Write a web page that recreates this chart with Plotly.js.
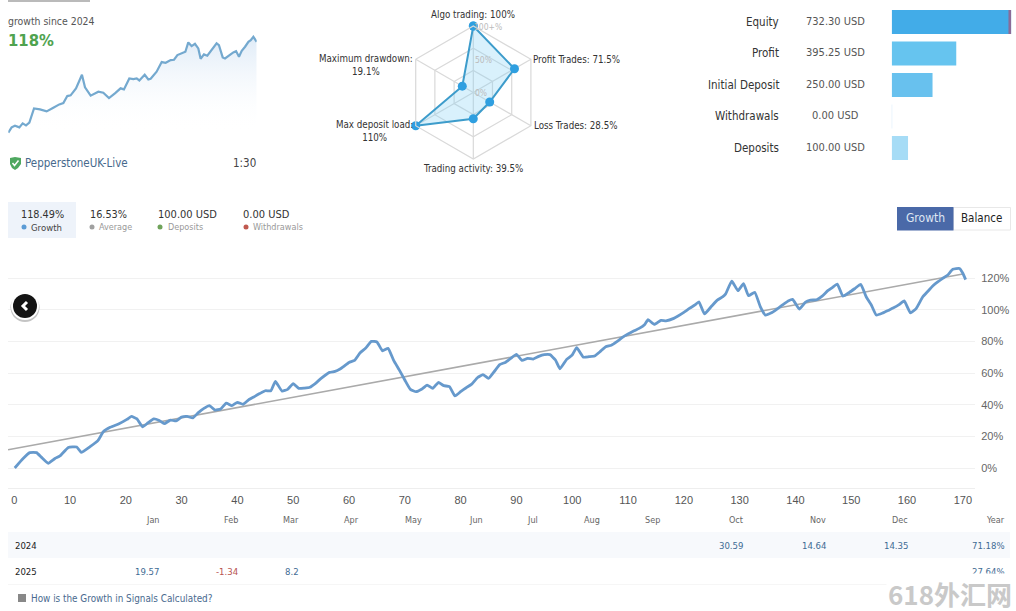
<!DOCTYPE html>
<html>
<head>
<meta charset="utf-8">
<script src="https://cdn.plot.ly/plotly-3.0.1.min.js"></script>
<style>
html, body { margin: 0; padding: 0; background: #fff; }
</style>
</head>
<body>
<div id="chart" style="width:1016px;height:611px"></div>
<script>
// main growth curve
var growthX = [0.1,1.6,2.8,4,4.9,6.1,7.3,8.2,9.7,11.2,12,13.6,15,16,17.2,18.7,20.2,21,22,23,24,25,26,26.9,28,29,30,31,32,33,34,35,36,37,38,39,40,41,42,43,44,45,46,46.8,48,49,50,51,52,53,54,55,56.5,57.5,58.4,59,60,61,62,63,64,65,66,67,68,69,70,71,72,73,74,75,76,77,78,79,80,81,82,83,84,85,86,87,88,89,90,91,92,93,94,95,96,97,97.8,99,100,100.8,102,103,104,105,106,107,108,109,110,111,112,113,113.6,114.7,115.9,116.8,118.2,120,121,122,122.7,123.7,125,126,127,127.5,128.6,129.7,130.7,131.6,132.7,133.7,134.6,135.7,136.7,137.7,138.7,139.5,140.7,141.8,142.7,143.8,144.8,145.8,146.6,147.5,148.5,149.7,150.7,151.7,152.7,153.6,154.5,155.7,156.6,157.5,158.5,159.5,160.6,161.6,162.8,163.7,164.6,165.5,166.4,167.3,168.2,169.4,170,170.5];
var growthY = [0,6,9.7,9.7,6.7,3,6,7.6,13,13.3,9.9,13.5,17.3,23,25.7,27.8,30.7,32.6,31,26,28.6,31,30,28,30.3,29.7,32.2,32.6,31.6,35,37.7,39.4,36.6,37.3,41,39.4,41.5,40.2,43,45,47,48.8,48.8,54.7,48.6,49.7,53.3,50.3,50.5,51,53.5,56.6,60.4,61,62.5,64,66.7,68,72.8,75.8,80,79.6,74,75.6,68,62,55.6,49.7,48.2,49.7,52.4,50.3,54,52,51.4,45.5,48.2,50.7,53,57,59,56.6,60.8,65.3,66.7,69.3,71.8,68,69.3,68.8,70.5,71.6,71.6,68.2,62.7,68.6,71.4,76,70,70.3,70.7,73.5,76.6,77.5,79.8,82.5,84.6,86.5,88.2,90.7,93.7,90.7,93.3,93,94.5,98.3,100.8,103,105,97.3,102.3,106,108.2,110,118,112,116.4,108.8,111,102,96.6,98,100.4,103,105.5,106.5,100.4,104.8,106,106.3,108.6,112,114,116.2,108.6,111,113.5,116,108,103,96.6,98,99.5,101,103,105.5,98,100.5,108,111.5,115,117.5,119.8,121.9,125.5,126,123,119];
var trendX = [-1.1, 170];
var trendY = [11.5, 122.5];
var xTicks = [0,10,20,30,40,50,60,70,80,90,100,110,120,130,140,150,160,170];
var yTicks = [0,20,40,60,80,100,120];
var yTickLabels = ['0%','20%','40%','60%','80%','100%','120%'];

// small curve at the top left
var miniX = [0,2.3,4.6,7.6,9.9,12.2,14.5,17.7,21.8,26.4,31,35.1,37.9,40.6,42.9,46.6,50.7,52.8,56.7,62,65.4,69.3,73.4,77.3,79.6,83.3,86.1,88.4,90.2,93.9,96.4,98,102.1,105.6,108.3,111.8,114.1,116.4,121.9,123.9,126.2,128.5,130.8,132.4,134.7,137,143.4,145,147.6,149.2,154.9,156.8,158.8,160.7,163,165.3,166.9,168.7,171];
var miniY = [0,6.9,9.1,6.9,12.1,9.5,13,31.5,30.2,27.6,32.4,36.7,38.4,47.5,48.4,57.5,75.2,58.8,48,53.1,51.8,44.9,51,57.5,56.2,70.4,69.6,70.4,67.8,75.2,69.1,70,79.1,91.6,90.7,94.2,94.6,100.7,105,117.1,112.3,115.3,109.3,95.9,101.5,99.8,115.8,113.6,97.6,96.3,104.1,105.8,98.5,106.3,111.5,117.9,120.1,124.4,117.9];

// radar
var radarNames = ['Algo trading','Profit Trades','Loss Trades','Trading activity','Max deposit load','Maximum drawdown'];
var radarValues = [100,71.5,28.5,39.5,100,19.1];

// money bars
var barNames = ['Equity','Profit','Initial Deposit','Withdrawals','Deposits'];
var barValues = [732.30,395.25,250.00,0.00,100.00];
var barLabels = ['732.30 USD','395.25 USD','250.00 USD','0.00 USD','100.00 USD'];
var barColors = ['#42ace8','#66c4ef','#68c1ee','#e4f3fb','#a6dcf6'];
var equitySliver = [17.3];

// table below the chart
var months = ['Jan','Feb','Mar','Apr','May','Jun','Jul','Aug','Sep','Oct','Nov','Dec','Year'];
var monthRight = [159,238,299,359,422,483,538,600,660,743,826,908,1005];
var row2024 = ['','','','','','','','','','30.59','14.64','14.35','71.18%'];
var row2025 = ['19.57','-1.34','8.2','','','','','','','','','','27.64%'];

var FONT = '"DejaVu Sans Condensed", "DejaVu Sans", sans-serif';
var W = 1016, H = 611;
function px(x) { return x / W; }
function py(y) { return 1 - y / H; }

var notes = [];
function label(x, y, text, size, color, align, extra) {
    var a = {
        xref: 'paper', yref: 'paper', x: px(x), y: py(y), text: text,
        xanchor: align || 'left', yanchor: 'middle', showarrow: false,
        xshift: align === 'right' ? 2 : (align === 'center' ? 0 : -2),
        font: {family: FONT, size: size, color: color}
    };
    for (var k in extra) { a[k] = extra[k]; }
    notes.push(a);
}

var shapes = [];
function box(x0, y0, x1, y1, fill, line) {
    shapes.push({type: 'rect', xref: 'paper', yref: 'paper', x0: px(x0), x1: px(x1), y0: py(y0), y1: py(y1),
        fillcolor: fill, line: {width: line ? 1 : 0, color: line || fill}, layer: 'below'});
}
function dot(x, y, r, fill, layer) {
    shapes.push({type: 'circle', xref: 'paper', yref: 'paper', x0: px(x - r), x1: px(x + r), y0: py(y - r), y1: py(y + r),
        fillcolor: fill, line: {width: 0}, layer: layer || 'above'});
}
function pathOf(points, closed) {
    var s = '';
    for (var i = 0; i < points.length; i++) {
        s += (i ? 'L' : 'M') + px(points[i][0]) + ',' + py(points[i][1]);
    }
    return s + (closed ? 'Z' : '');
}

// top left block
box(8, 0.5, 90, 1.5, '#777777');
label(8, 21, 'growth since 2024', 10.4, '#555555');
label(8, 40, '<b>118%</b>', 16.5, '#4fa34f');
shapes.push({type: 'path', xref: 'paper', yref: 'paper', layer: 'above', fillcolor: '#4fa860', line: {width: 0},
    path: pathOf([[10,158],[15,157],[21,158],[21,164],[18,168],[15,170],[12,168],[10,164]], true)});
shapes.push({type: 'path', xref: 'paper', yref: 'paper', layer: 'above', line: {width: 1.5, color: '#ffffff'},
    path: pathOf([[12.5,163],[14.5,165.5],[18.5,160.5]], false)});
label(25, 163, 'PepperstoneUK-Live', 11.5, '#46698c');
label(256, 163, '1:30', 11.5, '#444444', 'right');

// radar texts
label(473, 15, 'Algo trading: 100%', 9.7, '#333333', 'center');
label(533, 59, 'Profit Trades: 71.5%', 9.7, '#333333');
label(534, 125, 'Loss Trades: 28.5%', 9.7, '#333333');
label(473, 168, 'Trading activity: 39.5%', 9.7, '#333333', 'center');
label(366, 65, 'Maximum drawdown:<br>19.1%', 9.7, '#333333', 'center');
label(374, 131, 'Max deposit load:<br>110%', 9.7, '#333333', 'center');
label(488, 27, '100+%', 8.5, '#bbbbbb', 'center');
label(483, 60, '50%', 8.5, '#bbbbbb', 'center');
label(481, 93, '0%', 8.5, '#bbbbbb', 'center');

// money bar texts
var barRows = [22, 53, 85, 116, 148];
for (var b = 0; b < barNames.length; b++) {
    label(779, barRows[b], barNames[b], 11.5, '#333333', 'right');
    label(835, barRows[b] - 1, barLabels[b], 11, '#555555', 'center');
}

// summary strip
box(8, 202, 76, 238, '#eef3fa');
label(42, 215, '118.49%', 10.8, '#333333', 'center');
label(90, 215, '16.53%', 10.8, '#333333');
label(158, 215, '100.00 USD', 11, '#333333');
label(243, 215, '0.00 USD', 11, '#333333');
dot(24, 227, 2.5, '#5b9bd5');
label(31, 227, 'Growth', 9.5, '#444444');
dot(92, 227, 2.5, '#a0a0a0');
label(99, 227, 'Average', 9, '#999999');
dot(160, 227, 2.5, '#6fa35a');
label(168, 227, 'Deposits', 9, '#999999');
dot(246, 227, 2.5, '#c0594f');
label(253, 227, 'Withdrawals', 9, '#999999');

// Growth / Balance switch
box(953.5, 207.5, 1010.5, 230, '#ffffff', '#e8e8e8');
box(897, 207, 953.5, 230.5, '#4a69a8');
label(925, 218, 'Growth', 12, '#dfe6f3', 'center');
label(981, 218, 'Balance', 11.5, '#222222', 'center');

// back button
dot(25, 307.5, 14.5, '#c4c4c4');
dot(25, 306, 14, '#ffffff');
dot(25, 306, 12, '#141414');
shapes.push({type: 'path', xref: 'paper', yref: 'paper', layer: 'above', line: {width: 3, color: '#ffffff'},
    path: pathOf([[27,302],[23,306],[27,310]], false)});

// table
box(8, 532, 1010, 558, '#f7f9fc');
box(8, 584, 1010, 584.6, '#eeeeee');
label(15, 545, '2024', 9.5, '#222222');
label(15, 571, '2025', 9.5, '#222222');
for (var m = 0; m < months.length; m++) {
    label(monthRight[m], 520, months[m], 9, '#666666', 'right');
    if (row2024[m]) { label(monthRight[m], 545, row2024[m], 9.5, '#3f6c94', 'right'); }
    if (row2025[m]) {
        label(monthRight[m], 571, row2025[m], 9.5, row2025[m].charAt(0) === '-' ? '#b85450' : '#3f6c94', 'right');
    }
}
box(18, 594, 26, 602, '#888888');
label(31, 598, 'How is the Growth in Signals Calculated?', 9.85, '#4a6a8f');

// watermark, it hides part of the last table row
label(950, 593, '<b>618外汇网</b>', 26, '#c9c9c9', 'center',
    {bgcolor: '#ffffff', font: {family: '"Noto Sans CJK SC", sans-serif', size: 26, color: '#c9c9c9'}});

var data = [
    // main chart
    {x: trendX, y: trendY, type: 'scatter', mode: 'lines', line: {color: '#aaaaaa', width: 1.6}, hoverinfo: 'none'},
    {x: growthX, y: growthY, type: 'scatter', mode: 'lines', line: {color: '#6699cc', width: 2.8, shape: 'spline', smoothing: 0.4}, hoverinfo: 'none'},
    // mini chart
    {x: miniX, y: miniY, xaxis: 'x2', yaxis: 'y2', type: 'scatter', mode: 'lines', fill: 'tozeroy',
        fillgradient: {type: 'vertical', colorscale: [[0, 'rgba(255,255,255,0)'], [1, '#dfebf7']]},
        line: {color: '#74a9cf', width: 2.2}, hoverinfo: 'none'},
    // radar
    {type: 'scatterpolar', r: radarValues.concat(radarValues[0]), theta: radarNames.concat(radarNames[0]),
        mode: 'lines+markers', fill: 'toself', fillcolor: 'rgba(130,210,245,0.3)', cliponaxis: false,
        line: {color: '#3d9ccb', width: 2}, marker: {color: '#2f9fe0', size: 9}, hoverinfo: 'none'},
    // money bars
    {type: 'bar', orientation: 'h', x: barValues, y: barNames, xaxis: 'x3', yaxis: 'y3', width: 0.76,
        marker: {color: barColors, line: {width: barValues.map(function (v) { return v === 0 ? 1 : 0; }), color: barColors}},
        hoverinfo: 'none'},
    {type: 'bar', orientation: 'h', x: equitySliver, base: [barValues[0] - equitySliver[0]], y: [barNames[0]], xaxis: 'x3', yaxis: 'y3', width: 0.76,
        marker: {color: '#8a6c98'}, hoverinfo: 'none'}
];

var layout = {
    width: W,
    height: H,
    margin: {l: 0, r: 0, t: 0, b: 0, pad: 0},
    paper_bgcolor: '#ffffff',
    plot_bgcolor: 'rgba(0,0,0,0)',
    showlegend: false,
    barmode: 'overlay',
    annotations: notes,
    shapes: shapes,
    xaxis: {
        domain: [px(8), px(975)], range: [-1.11, 172.18],
        tickmode: 'array', tickvals: xTicks, ticks: 'outside', ticklen: 2, tickcolor: 'rgba(0,0,0,0)',
        showgrid: false, zeroline: false, showline: true, linecolor: '#eeeeee', linewidth: 1,
        tickfont: {family: '"Liberation Sans", Arial, sans-serif', size: 11, color: '#555555'}
    },
    yaxis: {
        domain: [py(488), py(250)], range: [-12.63, 137.7], side: 'right',
        anchor: 'x', tickmode: 'array', tickvals: yTicks, ticktext: yTickLabels, ticks: 'outside', ticklen: 3, tickcolor: 'rgba(0,0,0,0)',
        showgrid: true, gridcolor: '#f1f1f1', gridwidth: 1, zeroline: false, showline: false,
        tickfont: {family: '"Liberation Sans", Arial, sans-serif', size: 11, color: '#666666'}
    },
    xaxis2: {domain: [px(8.3), px(256.7)], range: [0, 171], anchor: 'y2', visible: false, fixedrange: true},
    yaxis2: {domain: [py(135), py(35)], range: [-3, 126.7], anchor: 'x2', visible: false, fixedrange: true},
    xaxis3: {domain: [px(891.7), px(1011.3)], range: [0, 732.3], anchor: 'y3', visible: false, fixedrange: true},
    yaxis3: {domain: [py(163.75), py(6.25)], anchor: 'x3', type: 'category', categoryorder: 'array', categoryarray: barNames,
        autorange: 'reversed', visible: false, fixedrange: true},
    polar: {
        domain: {x: [px(406.8), px(539.8)], y: [py(159), py(26)]},
        bgcolor: 'rgba(0,0,0,0)',
        gridshape: 'linear',
        radialaxis: {range: [0, 100], tickvals: [33.3, 66.7, 100], showticklabels: false, ticks: '', showline: false, gridcolor: '#d9d9d9', gridwidth: 1.2},
        angularaxis: {direction: 'clockwise', rotation: 90, showticklabels: false, ticks: '', type: 'category', categoryorder: 'array', categoryarray: radarNames,
            gridcolor: '#d9d9d9', gridwidth: 1.2, linecolor: '#d9d9d9', linewidth: 1.2}
    }
};

Plotly.newPlot('chart', data, layout, {displayModeBar: false, staticPlot: true});
</script>
</body>
</html>
